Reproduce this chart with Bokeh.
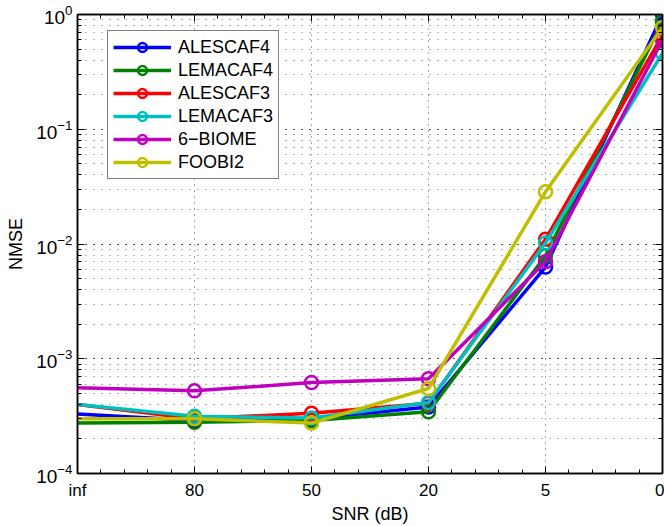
from bokeh.plotting import figure
from bokeh.models import (FixedTicker, LogTicker, LinearAxis, Legend, LegendItem,
                          Range1d, CustomJSTickFormatter)
from bokeh.embed import file_html
from bokeh.resources import INLINE

snr_labels = ["inf", "80", "50", "20", "5", "0"]
snr_pos = [0, 1, 2, 3, 4, 5]

alescaf4 = [3.3e-4, 2.9e-4, 3.0e-4, 3.8e-4, 6.3e-3, 1.0]
lemacaf4 = [2.75e-4, 2.8e-4, 2.9e-4, 3.45e-4, 7.9e-3, 0.87]
alescaf3 = [4.0e-4, 3.0e-4, 3.35e-4, 4.1e-4, 1.1e-2, 0.66]
lemacaf3 = [4.0e-4, 3.15e-4, 3.05e-4, 4.15e-4, 1.02e-2, 0.46]
biome6 = [5.6e-4, 5.25e-4, 6.2e-4, 6.7e-4, 7.0e-3, 0.60]
foobi2 = [3.0e-4, 3.0e-4, 2.75e-4, 5.5e-4, 2.85e-2, 0.77]

series = [
    ("ALESCAF4", alescaf4, "#0000ff"),
    ("LEMACAF4", lemacaf4, "#008000"),
    ("ALESCAF3", alescaf3, "#ff0000"),
    ("LEMACAF3", lemacaf3, "#00bfbf"),
    ("6\u2212BIOME", biome6, "#bf00bf"),
    ("FOOBI2", foobi2, "#bfbf00"),
]

FONT = "Liberation Sans"

p = figure(width=664, height=526, y_axis_type="log",
           x_range=Range1d(0, 5), y_range=Range1d(1e-4, 1e0),
           output_backend="svg", toolbar_location=None,
           min_border_left=77, min_border_right=2, min_border_top=14, min_border_bottom=51)
p.outline_line_color = "black"
p.outline_line_width = 1.5
p.background_fill_color = "white"
p.border_fill_color = "white"

xticker = FixedTicker(ticks=snr_pos, minor_ticks=[i * 0.2 for i in range(26)])
p.xaxis.ticker = xticker
p.xaxis.major_label_overrides = {i: s for i, s in zip(snr_pos, snr_labels)}
p.yaxis.ticker = LogTicker(num_minor_ticks=10)

for ax in [p.xaxis[0], p.yaxis[0]]:
    ax.major_tick_in = 7
    ax.major_tick_out = 0
    ax.minor_tick_in = 4
    ax.minor_tick_out = 0
    ax.axis_line_color = "black"
    ax.axis_line_width = 1.5
    ax.major_tick_line_color = "black"
    ax.minor_tick_line_color = "black"
    ax.major_label_text_font = FONT
    ax.major_label_text_font_size = "17px"
    ax.major_label_text_color = "black"
    ax.axis_label_text_font = FONT
    ax.axis_label_text_font_size = "18px"
    ax.axis_label_text_font_style = "normal"
    ax.axis_label_text_color = "black"

p.yaxis.major_label_text_font_size = "19px"
p.xaxis.axis_label = "SNR (dB)"
p.yaxis.axis_label = "NMSE"
p.xaxis.major_label_standoff = 7
p.xaxis.axis_label_standoff = 1
p.yaxis.major_label_standoff = 5
p.yaxis.axis_label_standoff = 7

blank = CustomJSTickFormatter(code="return '';")
top = LinearAxis(ticker=xticker, formatter=blank,
                 major_tick_in=7, major_tick_out=0, minor_tick_in=4, minor_tick_out=0,
                 axis_line_width=1.5, major_label_standoff=0)
p.add_layout(top, "above")
right = LinearAxis(ticker=LogTicker(num_minor_ticks=10), formatter=blank,
                   major_tick_in=7, major_tick_out=0, minor_tick_in=4, minor_tick_out=0,
                   axis_line_width=1.5, major_label_standoff=0)
p.add_layout(right, "right")

p.xgrid.grid_line_color = "black"
p.xgrid.grid_line_alpha = 0.7
p.xgrid.grid_line_dash = "1 5"
p.ygrid.grid_line_color = "black"
p.ygrid.grid_line_alpha = 0.7
p.ygrid.grid_line_dash = "1 7"
p.ygrid.minor_grid_line_color = "black"
p.ygrid.minor_grid_line_alpha = 0.6
p.ygrid.minor_grid_line_dash = "1 7"

items = []
for name, vals, col in series:
    ln = p.line(snr_pos, vals, line_color=col, line_width=3.5)
    sc = p.scatter(snr_pos[1:], vals[1:], marker="circle", size=13, line_color=col,
                   line_width=2.5, fill_color=None)
    items.append(LegendItem(label=name, renderers=[ln, sc]))

legend = Legend(items=items, location=(30, 294))
legend.label_text_font = FONT
legend.label_text_font_size = "18px"
legend.label_text_color = "black"
legend.glyph_width = 58
legend.glyph_height = 22
legend.spacing = 1
legend.padding = 5
legend.margin = 0
legend.label_standoff = 7
legend.border_line_color = "black"
legend.border_line_width = 1.5
legend.background_fill_color = "white"
legend.background_fill_alpha = 1.0
p.add_layout(legend, "center")

open("out.html", "w").write(file_html(p, INLINE))
